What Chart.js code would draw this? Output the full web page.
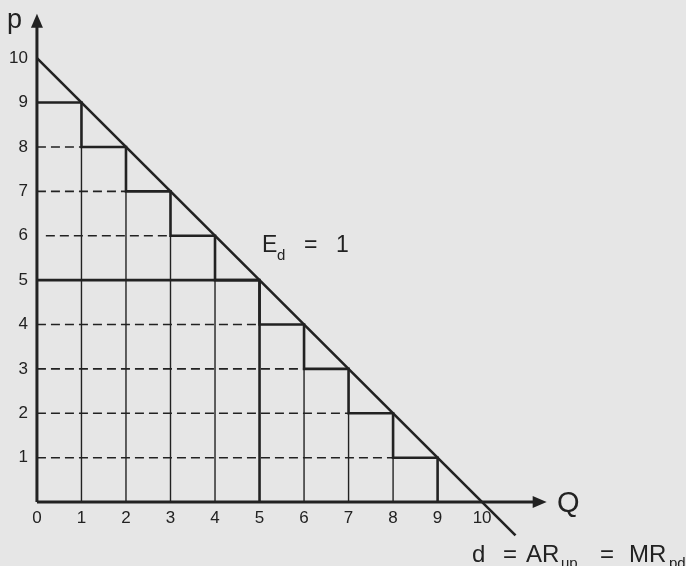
<!DOCTYPE html>
<html>
<head>
<meta charset="utf-8">
<script src="https://cdn.jsdelivr.net/npm/chart.js@4/dist/chart.umd.min.js"></script>
<style>
  html, body { margin: 0; padding: 0; background: #e6e6e6; }
  #wrap { width: 686px; height: 566px; }
</style>
</head>
<body>
<div id="wrap"><canvas id="demand"></canvas></div>
<script>
// demand curve d: p from 10 down to 0 at Q = 10, drawn a little past the axis
const demandQ = [0, 10.75];
const demandP = [10, -0.75];

// price steps: each unit sold at its own price
const stepQ = [0, 1, 2, 3, 4, 5, 6, 7, 8, 9];
const stepP = [9, 8, 7, 6, 5, 4, 3, 2, 1, 0];

// dashed price lines from the p axis to the start of each step
const dashP = [8, 7, 6, 4, 3, 2, 1];
const dashFrom = [0, 0, 0.2, 0, 0, 0, 0];
const dashTo = [1, 2, 3, 5, 6, 7, 8];

// revenue rectangle at unit elasticity
const unitP = 5;
const unitQ = 5;

// thin vertical lines under each step
const gridQ = [1, 2, 3, 4, 6, 7, 8];
const gridTop = [8, 7, 6, 5, 3, 2, 1];

const xTicks = [0, 1, 2, 3, 4, 5, 6, 7, 8, 9, 10];
const yTicks = [1, 2, 3, 4, 5, 6, 7, 8, 9, 10];

const ink = '#222222';
const font = '"Liberation Sans", Arial, sans-serif';

function seg(x1, y1, x2, y2, width, dash) {
    return {
        data: [{ x: x1, y: y1 }, { x: x2, y: y2 }],
        borderColor: ink,
        borderWidth: width,
        borderDash: dash || [],
        pointRadius: 0,
        tension: 0
    };
}

const datasets = [];

// dashed price levels
dashP.forEach((p, i) => {
    datasets.push(seg(dashFrom[i], p, dashTo[i], p, 1.6, [9, 5]));
});

// thin verticals
gridQ.forEach((q, i) => {
    datasets.push(seg(q, 0, q, gridTop[i], 1.4));
});

// p = 5 rectangle edges
datasets.push(seg(0, unitP, unitQ, unitP, 2.6));
datasets.push(seg(unitQ, 0, unitQ, unitP, 2.6));

// staircase: 'before' runs across first, then down
datasets.push({
    data: stepQ.map((q, i) => ({ x: q, y: stepP[i] })),
    borderColor: ink,
    borderWidth: 2.6,
    stepped: 'before',
    pointRadius: 0
});

// demand line
datasets.push({
    data: demandQ.map((q, i) => ({ x: q, y: demandP[i] })),
    borderColor: ink,
    borderWidth: 2.6,
    pointRadius: 0,
    tension: 0
});

function arrowHead(ctx, x, y, dir) {
    ctx.beginPath();
    if (dir === 'up') {
        ctx.moveTo(x, y);
        ctx.lineTo(x - 6, y + 14);
        ctx.lineTo(x + 6, y + 14);
    } else {
        ctx.moveTo(x, y);
        ctx.lineTo(x - 14, y - 6);
        ctx.lineTo(x - 14, y + 6);
    }
    ctx.closePath();
    ctx.fill();
}

const axesPlugin = {
    id: 'axesPlugin',
    afterDatasetsDraw(chart) {
        const ctx = chart.ctx;
        const xs = chart.scales.x;
        const ys = chart.scales.y;
        const x0 = xs.getPixelForValue(0);
        const y0 = ys.getPixelForValue(0);
        const xEnd = xs.getPixelForValue(11.45);
        const yEnd = ys.getPixelForValue(11.0);

        ctx.save();
        ctx.strokeStyle = ink;
        ctx.fillStyle = ink;
        ctx.lineWidth = 3;
        ctx.beginPath();
        ctx.moveTo(x0, y0);
        ctx.lineTo(x0, yEnd + 8);
        ctx.moveTo(x0, y0);
        ctx.lineTo(xEnd - 8, y0);
        ctx.stroke();
        arrowHead(ctx, x0, yEnd, 'up');
        arrowHead(ctx, xEnd, y0, 'right');

        // tick labels
        ctx.font = '17px ' + font;
        ctx.textBaseline = 'middle';
        ctx.textAlign = 'right';
        yTicks.forEach(v => {
            ctx.fillText(String(v), x0 - 9, ys.getPixelForValue(v));
        });
        ctx.textAlign = 'center';
        xTicks.forEach(v => {
            ctx.fillText(String(v), xs.getPixelForValue(v), y0 + 16);
        });

        // axis names
        ctx.textAlign = 'left';
        ctx.textBaseline = 'alphabetic';
        ctx.font = '27px ' + font;
        ctx.fillText('p', 7, 28);
        ctx.font = '29px ' + font;
        ctx.fillText('Q', 557, 512);

        // E_d = 1
        ctx.font = '23px ' + font;
        ctx.fillText('E', 262, 252);
        ctx.font = '15px ' + font;
        ctx.fillText('d', 277, 260);
        ctx.font = '23px ' + font;
        ctx.fillText('=', 304, 252);
        ctx.fillText('1', 336, 252);

        // d = AR_up = MR_pd
        ctx.font = '24px ' + font;
        ctx.fillText('d', 472, 562);
        ctx.fillText('=', 503, 562);
        ctx.fillText('AR', 526, 562);
        ctx.fillText('=', 600, 562);
        ctx.fillText('MR', 629, 562);
        ctx.font = '15px ' + font;
        ctx.fillText('up', 561, 568);
        ctx.fillText('pd', 669, 568);
        ctx.restore();
    }
};

new Chart(document.getElementById('demand'), {
    type: 'line',
    data: { datasets },
    options: {
        responsive: true,
        maintainAspectRatio: false,
        animation: false,
        layout: { padding: 0 },
        plugins: {
            legend: { display: false },
            tooltip: { enabled: false }
        },
        scales: {
            x: { type: 'linear', min: -0.83, max: 14.58, display: false },
            y: { type: 'linear', min: -1.44, max: 11.31, display: false }
        }
    },
    plugins: [axesPlugin]
});
</script>
</body>
</html>
